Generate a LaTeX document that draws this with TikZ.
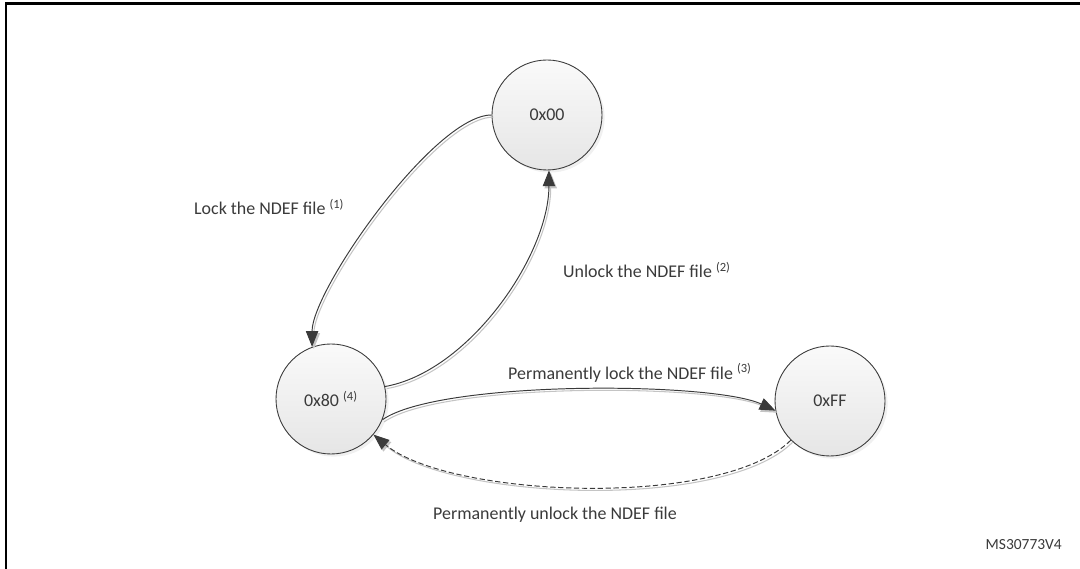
\documentclass[tikz,border=0pt]{standalone}
\usepackage{fontspec}
\setmainfont{Carlito}
\usepackage{tikz}
\usetikzlibrary{arrows.meta}
\usetikzlibrary{shadows}
\definecolor{ink}{HTML}{3A3A3A}
\definecolor{ghost}{HTML}{C4C4C4}
\tikzset{l/.style={font=\fontsize{10.2}{12}\selectfont, text=ink}}
\tikzset{m/.style={font=\fontsize{8.8}{10}\selectfont, text=ink}}
\tikzset{>={Triangle[length=9pt,width=7pt]}}
\tikzset{st/.style={circle, draw=ink, line width=.5pt, minimum size=2.2cm,
  top color=gray!4, bottom color=gray!20,
  drop shadow={shadow xshift=1.5pt, shadow yshift=-1.5pt, opacity=.12}, l}}
\tikzset{tr/.style={->, draw=ink, line width=.55pt,
  preaction={draw=ghost, line width=.6pt, transform canvas={xshift=1pt, yshift=-1.2pt}}}}

\begin{document}
\begin{tikzpicture}
    \useasboundingbox (0,0) rectangle (21.6,11.38);
    \draw[line width=1.7pt] (0.12,0) -- (0.12,11.30) -- (21.6,11.30);
    % states
    \node[st] (n00) at (10.94,9.08) {0x00};
    \node[st] (n80) at (6.62,3.40) {0x80 \textsuperscript{(4)}};
    \node[st] (nFF) at (16.6,3.36) {0xFF};
    % transitions
    \draw[tr] (n00.180) to[out=180, in=90, looseness=.5] (n80.110);
    \draw[tr] (n80.13) to[out=10, in=-90, looseness=.8] (n00.-88);
    \draw[tr] (n80.-22) to[out=35, in=155, looseness=.45] (nFF.190);
    \draw[tr, dash pattern=on 3pt off 1.5pt] (nFF.225) to[out=225, in=-40, looseness=.6] (n80.-40);
    \node[l, anchor=west] (lk) at (3.76,7.24) {Lock the NDEF file \textsuperscript{(1)}};
    \node[l, anchor=west] (ulk) at (11.14,5.98) {Unlock the NDEF file \textsuperscript{(2)}};
    \node[l, anchor=west] (plk) at (10.04,3.92) {Permanently lock the NDEF file \textsuperscript{(3)}};
    \node[l, anchor=west] (pulk) at (8.54,1.08) {Permanently unlock the NDEF file};
    \node[m, anchor=east] (ref) at (21.36,0.48) {MS30773V4};
\end{tikzpicture}
\end{document}
